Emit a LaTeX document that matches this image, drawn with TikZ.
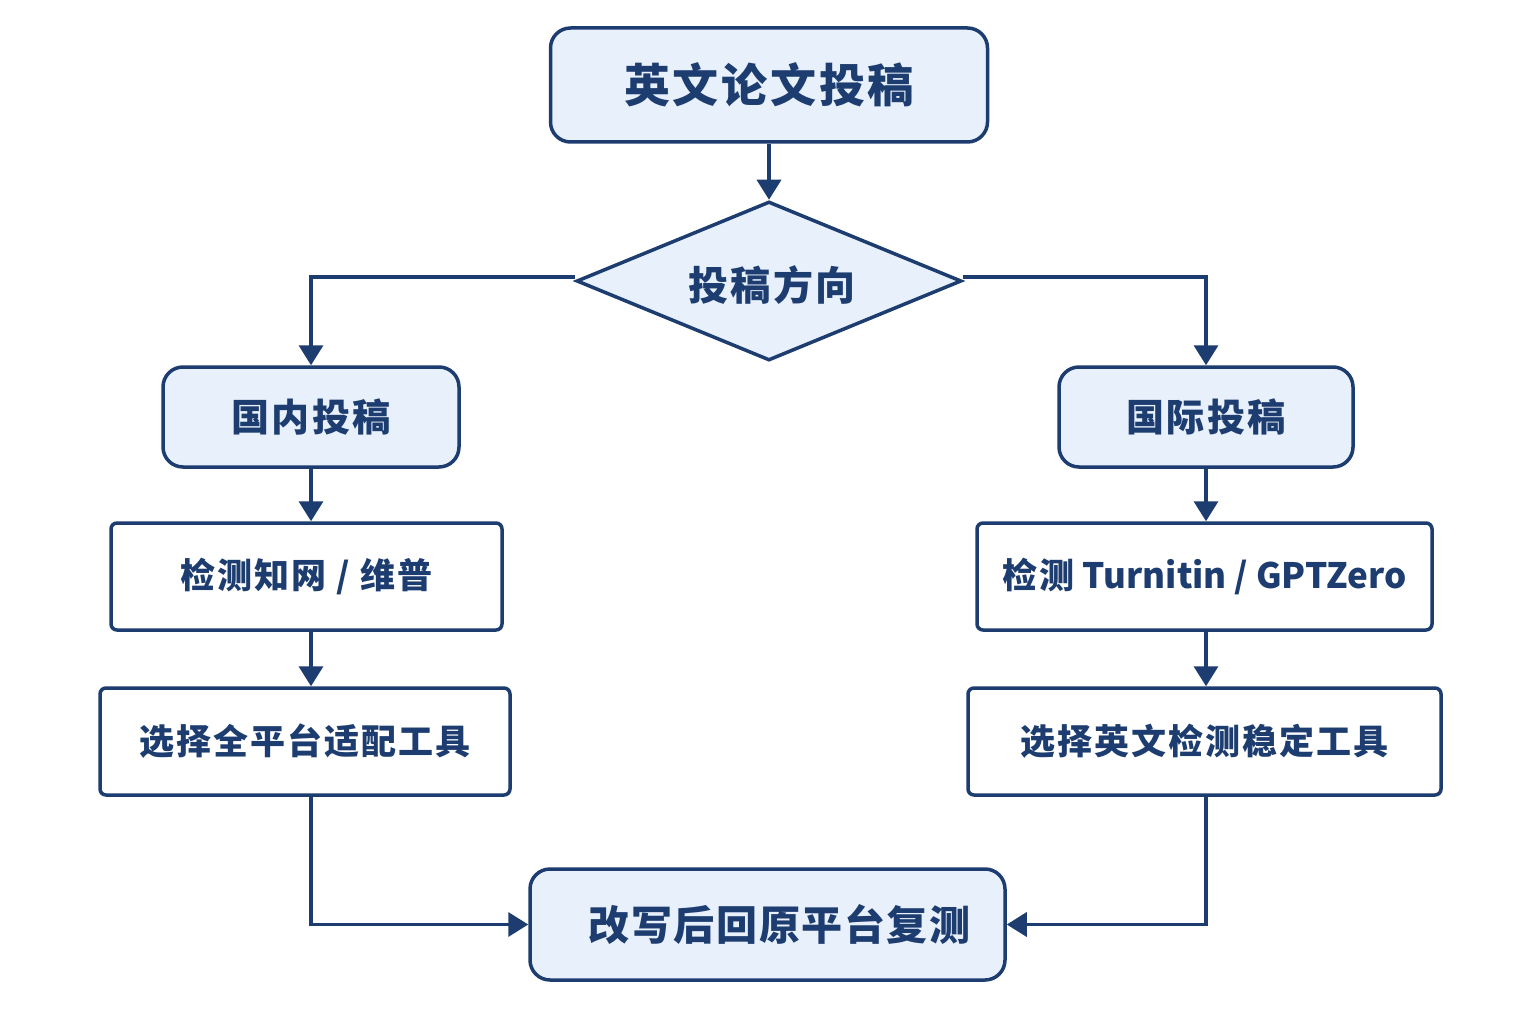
\documentclass[tikz,border=0pt]{standalone}
\usepackage{fontspec}
\setmainfont{Noto Sans CJK SC}
\newfontfamily\spaced[LetterSpace=6]{Noto Sans CJK SC}
\usetikzlibrary{arrows.meta,shapes.geometric}
\definecolor{navy}{HTML}{1D3D70}
\definecolor{pale}{HTML}{E7F0FB}
\begin{document}
\begin{tikzpicture}[x=1pt,y=-1pt,
  box/.style={draw=navy,line width=3.5pt,fill=white,rounded corners=6pt,inner sep=0pt,text=navy},
  softbox/.style={draw=navy,line width=3.5pt,fill=pale,rounded corners=20pt,inner sep=0pt,text=navy},
  conn/.style={draw=navy,line width=3.5pt,-{Triangle[width=24pt,length=20pt]}},
  boxfont/.style={font=\spaced\bfseries\fontsize{35}{38}\selectfont}]
\path[use as bounding box,fill=white] (0,0) rectangle (1536,1024);
% nodes
\node[softbox,minimum width=437pt,minimum height=114pt,font=\spaced\bfseries\fontsize{46}{50}\selectfont] (top) at (769,85) {英文论文投稿};
\node[diamond,draw=navy,line width=3.5pt,fill=pale,aspect=2.42,minimum width=385pt,minimum height=159pt,inner sep=0pt] (dir) at (769,281) {};
\node[text=navy,font=\spaced\bfseries\fontsize{40}{44}\selectfont] (dirtext) at (772,285) {投稿方向};
\node[softbox,minimum width=296pt,minimum height=100pt,font=\spaced\bfseries\fontsize{38}{42}\selectfont] (dom) at (311,417) {国内投稿};
\node[softbox,minimum width=294pt,minimum height=100pt,font=\spaced\bfseries\fontsize{38}{42}\selectfont] (intl) at (1206,417) {国际投稿};
\node[box,boxfont,minimum width=391pt,minimum height=107pt] (d1) at (306.5,576.5) {检测知网 / 维普};
\node[box,boxfont,minimum width=410pt,minimum height=107pt] (d2) at (305,741.5) {选择全平台适配工具};
\node[box,minimum width=455pt,minimum height=107pt,font=\bfseries\fontsize{35}{38}\selectfont] (i1) at (1204.5,576.5) {{\spaced 检测} Turnitin / GPTZero};
\node[box,boxfont,minimum width=473pt,minimum height=107pt] (i2) at (1204.5,741.5) {选择英文检测稳定工具};
\node[softbox,minimum width=475pt,minimum height=111pt,font=\bfseries\fontsize{41}{45}\selectfont\addfontfeature{LetterSpace=4}] (fin) at (767.5,924.5) {\hspace*{24pt}改写后回原平台复测};
% connectors
\draw[conn] (top) -- (dir.north);
\draw[conn] ([yshift=4pt]dir.west) -| (dom.north);
\draw[conn] ([yshift=4pt]dir.east) -| (intl.north);
\draw[conn] (dom.south) -- (d1.north -| dom.south);
\draw[conn] (intl.south) -- (i1.north -| intl.south);
\draw[conn] (d1.south -| dom.south) -- (d2.north -| dom.south);
\draw[conn] (i1.south -| intl.south) -- (i2.north -| intl.south);
\draw[conn] (d2.south -| dom.south) |- (fin.west);
\draw[conn] (i2.south -| intl.south) |- (fin.east);
\end{tikzpicture}
\end{document}
